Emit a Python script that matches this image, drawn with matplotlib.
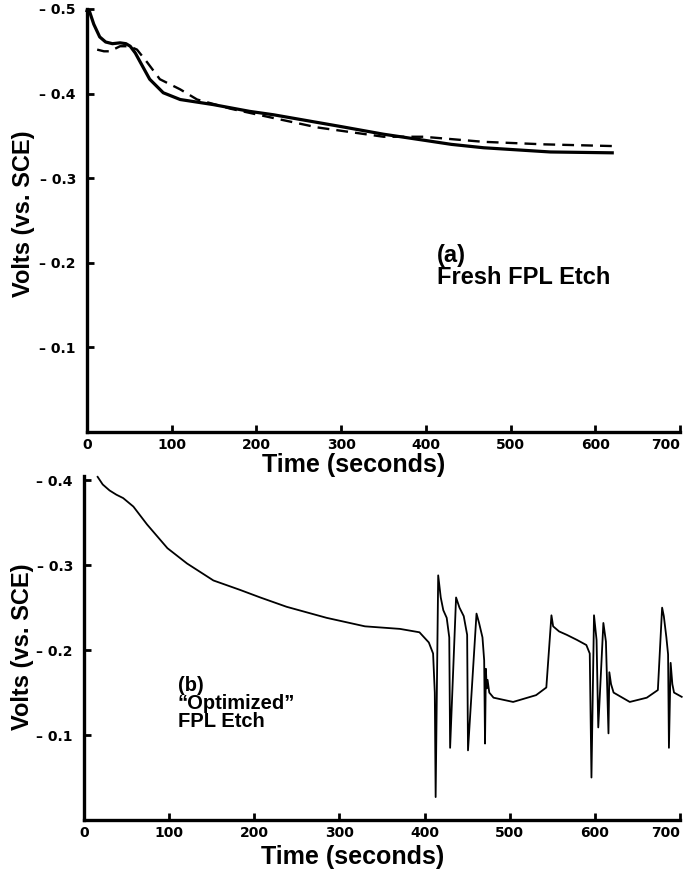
import numpy as np
import matplotlib
matplotlib.use("Agg")
import matplotlib.pyplot as plt

# (a) fresh FPL etch, two runs (potential magnitude, V vs SCE)
t_a_solid = [0, 3, 8, 15, 22, 30, 39, 46, 51, 57, 63, 74, 90, 110, 149, 192, 220,
             300, 350, 397, 430, 468, 547, 620]
v_a_solid = [0.498, 0.497, 0.482, 0.467, 0.461, 0.459, 0.460, 0.459, 0.456, 0.448,
             0.437, 0.417, 0.401, 0.393, 0.387, 0.379, 0.375, 0.361, 0.352, 0.345,
             0.340, 0.336, 0.331, 0.330]
t_a_dash = [12, 20, 27, 39, 50, 59, 71, 86, 110, 130, 170, 216, 272, 350, 397, 468, 540, 620]
v_a_dash = [0.452, 0.450, 0.450, 0.456, 0.456, 0.452, 0.437, 0.417, 0.405, 0.393,
            0.382, 0.372, 0.360, 0.349, 0.349, 0.343, 0.340, 0.338]

# (b) "optimized" FPL etch
t_b = [16, 22, 30, 38, 46, 58, 74, 98, 121, 152, 183, 207, 238, 285, 330, 371, 394,
       405, 410, 412, 413, 416, 419, 422, 426, 429, 430, 437, 441, 446, 450, 451,
       461, 464, 468, 470, 471, 472, 473, 474, 476, 481, 504, 531, 543, 549, 551,
       558, 567, 579, 590, 594, 596, 599, 602, 604, 610, 613, 616, 617, 619, 622,
       641, 661, 674, 679, 681, 684, 686, 687, 689, 691, 693, 702]
v_b = [0.404, 0.395, 0.388, 0.383, 0.379, 0.369, 0.348, 0.320, 0.302, 0.282, 0.271,
       0.262, 0.251, 0.238, 0.228, 0.225, 0.221, 0.209, 0.196, 0.150, 0.027, 0.288,
       0.262, 0.247, 0.238, 0.215, 0.085, 0.262, 0.250, 0.240, 0.218, 0.082,
       0.243, 0.232, 0.215, 0.188, 0.090, 0.178, 0.155, 0.165, 0.150, 0.144, 0.139,
       0.147, 0.156, 0.241, 0.228, 0.222, 0.218, 0.212, 0.206, 0.196, 0.050, 0.241,
       0.212, 0.109, 0.232, 0.210, 0.102, 0.174, 0.160, 0.150, 0.139, 0.144, 0.153,
       0.250, 0.240, 0.215, 0.195, 0.085, 0.185, 0.160, 0.150, 0.145]

xticks = [0, 100, 200, 300, 400, 500, 600, 700]
yticks_a = [0.1, 0.2, 0.3, 0.4, 0.5]
yticks_b = [0.1, 0.2, 0.3, 0.4]

W, H = 683, 871
fig = plt.figure(figsize=(W / 100, H / 100), dpi=100)

tickfont = dict(family=['Liberation Sans Narrow', 'DejaVu Sans'], weight='bold', size=10)
labfont = dict(family=['Liberation Sans', 'DejaVu Sans'], weight='bold')


def style(ax, yt, ymax):
    ax.patch.set_visible(False)
    for s in ['top', 'right']:
        ax.spines[s].set_visible(False)
    ax.spines['left'].set_linewidth(2.4)
    ax.spines['bottom'].set_linewidth(2.4)
    ax.set_xlim(0, 700)
    ax.set_ylim(0, ymax)
    ax.set_xticks(xticks)
    ax.set_xticklabels([str(x) for x in xticks], **tickfont)
    ax.get_xticklabels()[-1].set_ha('right')
    ax.set_yticks(yt)
    ax.set_yticklabels(['\u2013 %.1f' % y for y in yt], **tickfont)
    ax.tick_params(direction='in', length=5, width=2, pad=4)
    ax.tick_params(axis='y', pad=8)


# top panel
ax1 = fig.add_axes([87 / W, 1 - 432 / H, 593 / W, 423 / H])
style(ax1, yticks_a, 0.5)
ax1.plot(t_a_solid, v_a_solid, color='black', lw=2.3, clip_on=False)
ax1.plot(t_a_dash, v_a_dash, color='black', lw=1.7, dashes=(5, 3), clip_on=False)
ax1.set_xlabel('Time (seconds)', fontsize=18, **labfont)
ax1.xaxis.set_label_coords(0.45, -0.05)
ax1.set_ylabel('Volts (vs. SCE)', fontsize=17, **labfont)
ax1.yaxis.set_label_coords(-0.088, 0.515)
ax1.text(413, 0.222, '(a)\nFresh FPL Etch', fontsize=17, va='top', ha='left',
         linespacing=0.95, **labfont)

# bottom panel
ax2 = fig.add_axes([84 / W, 1 - 820 / H, 596 / W, 344 / H])
style(ax2, yticks_b, 0.405)
ax2.plot(t_b, v_b, color='black', lw=1.3, clip_on=False)
ax2.set_xlabel('Time (seconds)', fontsize=18, **labfont)
ax2.xaxis.set_label_coords(0.45, -0.073)
ax2.set_ylabel('Volts (vs. SCE)', fontsize=17, **labfont)
ax2.yaxis.set_label_coords(-0.084, 0.505)
ax2.text(110, 0.17, '(b)\n\u201cOptimized\u201d\nFPL Etch', fontsize=14.5, va='top',
         ha='left', linespacing=0.95, **labfont)

fig.savefig('out.png', dpi=100)
